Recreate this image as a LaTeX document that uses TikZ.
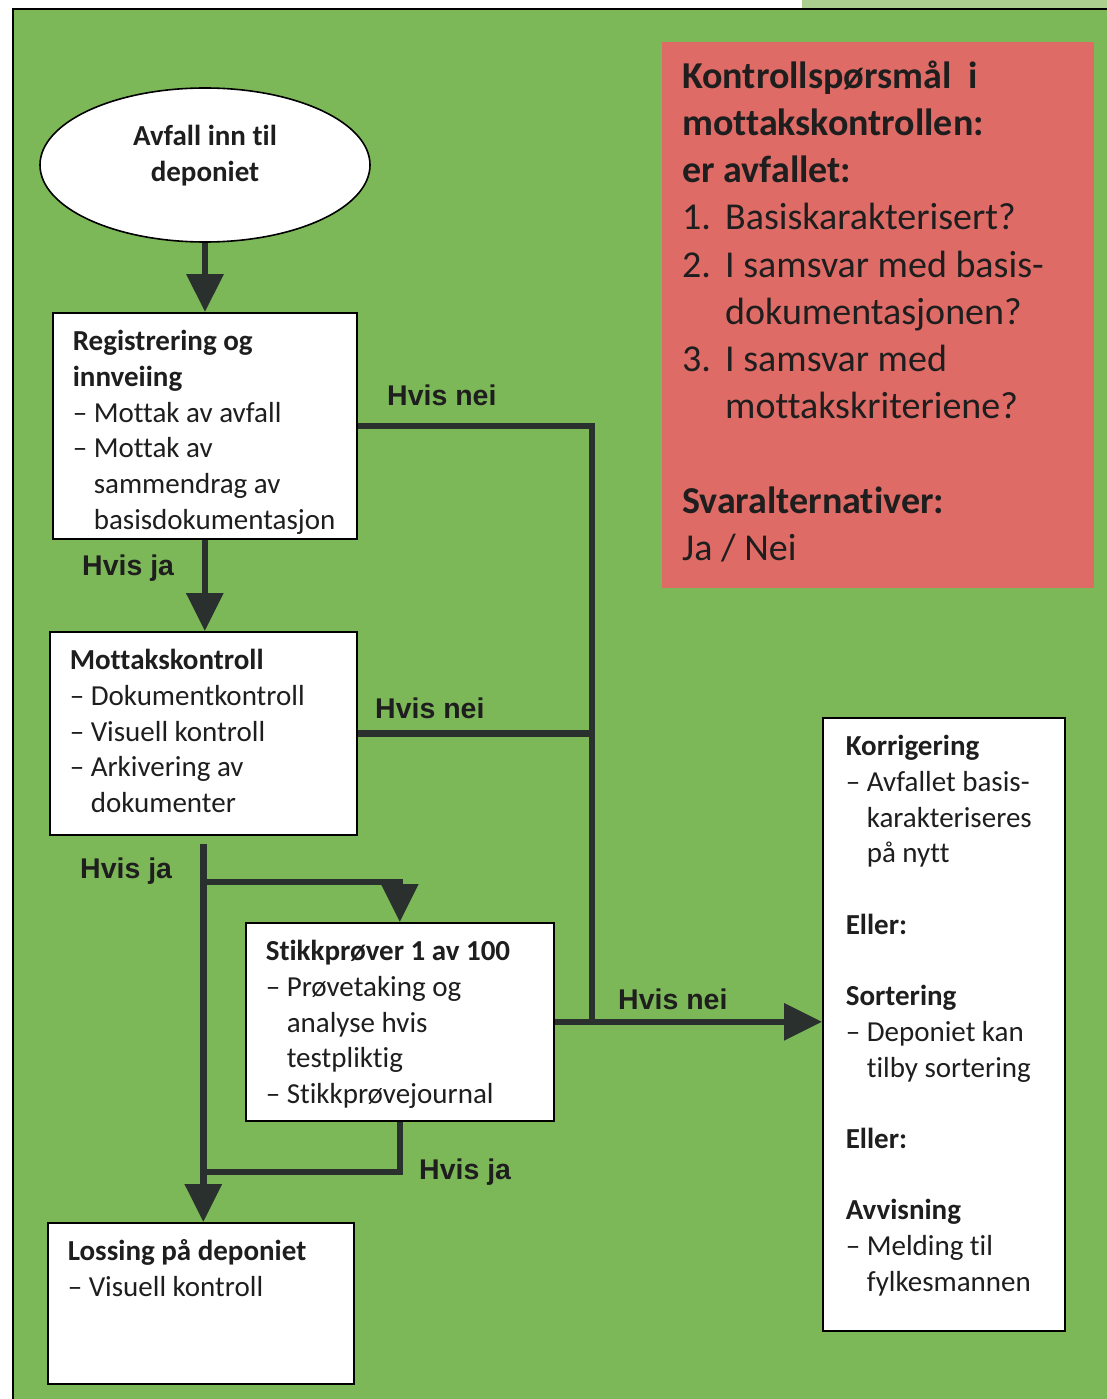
\documentclass[tikz,border=0pt]{standalone}
\usepackage{fontspec}
\setmainfont{Carlito}[Ligatures=NoCommon]
\newfontfamily\labelfont{Liberation Sans}
\usetikzlibrary{arrows.meta,shapes.geometric,positioning}

\definecolor{bggreen}{RGB}{125,184,88}
\definecolor{stripgreen}{RGB}{172,206,142}
\definecolor{questred}{RGB}{222,107,102}
\definecolor{linedark}{RGB}{42,48,45}
\definecolor{textdark}{RGB}{30,30,30}

\newcommand\litem{–\ }
\newcommand\lcont{\hphantom{–}\ }
\newcommand\boxbody[4][20pt]{\parbox[t][#3][t]{#2}{\fontsize{29}{35.7}\selectfont\raggedright\leftskip=#1\relax\parindent=0pt\vspace*{13pt}\strut#4}}

\tikzset{
  stepbox/.style={draw=black, line width=1.6pt, fill=white, anchor=north west, inner sep=0pt, text=textdark},
  startnode/.style={ellipse, draw=black, line width=1.6pt, fill=white, minimum width=330pt, minimum height=154pt, inner sep=0pt, text=textdark},
  questbox/.style={fill=questred, anchor=north west, inner sep=0pt, text=textdark},
  flow/.style={draw=linedark, line width=6.5pt},
  flowarrow/.style={flow, -{Triangle[length=38pt,width=36pt]}},
  hvis/.style={font=\labelfont\bfseries\fontsize{28.5}{34}\selectfont, text=textdark, inner sep=0pt, anchor=base west}
}

\begin{document}
\begin{tikzpicture}[x=1pt,y=-1pt]
\useasboundingbox (0,0) rectangle (1107,1399);
\fill[white] (0,0) rectangle (1107,1399);
\fill[stripgreen] (802,0) rectangle (1107,9);
\fill[bggreen] (13,9) rectangle (1107,1399);
\draw[line width=2.5pt] (13,1399) -- (13,9) -- (1107,9);

\node[startnode] (start) at (205,165) {\parbox[c][100pt][t]{220pt}{\centering\fontsize{29}{36}\selectfont\bfseries\vspace*{5pt}\strut Avfall inn til\\deponiet}};

\node[stepbox] (reg) at (52,312) {\boxbody{304pt}{226pt}{\textbf{Registrering og}\\
\textbf{innveiing}\\
\litem Mottak av avfall\\
\litem Mottak av\\
\lcont sammendrag av\\
\lcont basisdokumentasjon}};

\node[stepbox] (ctrl) at (49,631) {\boxbody{307pt}{203pt}{\textbf{Mottakskontroll}\\
\litem Dokumentkontroll\\
\litem Visuell kontroll\\
\litem Arkivering av\\
\lcont dokumenter}};

\node[stepbox] (stikk) at (245,922) {\boxbody{308pt}{198pt}{\textbf{Stikkprøver 1 av 100}\\
\litem Prøvetaking og\\
\lcont analyse hvis\\
\lcont testpliktig\\
\litem Stikkprøvejournal}};

\node[stepbox] (loss) at (47,1222) {\boxbody{306pt}{161pt}{\textbf{Lossing på deponiet}\\
\litem Visuell kontroll}};

\node[stepbox] (fix) at (822,717) {\boxbody[23pt]{242pt}{613pt}{\textbf{Korrigering}\\
\litem Avfallet basis-\\
\lcont karakteriseres\\
\lcont på nytt\\[35.7pt]
\textbf{Eller:}\\[35.7pt]
\textbf{Sortering}\\
\litem Deponiet kan\\
\lcont tilby sortering\\[35.7pt]
\textbf{Eller:}\\[35.7pt]
\textbf{Avvisning}\\
\litem Melding til\\
\lcont fylkesmannen}};

\node[questbox] (quest) at (662,42) {\parbox[t][546pt][t]{432pt}{\fontsize{38}{47.2}\selectfont\raggedright\leftskip=20pt\parindent=0pt\vspace*{13pt}\strut
\textbf{Kontrollspørsmål\ \ i}\\
\textbf{mottakskontrollen:}\\
\textbf{er avfallet:}\\
\makebox[43pt][l]{1.}Basiskarakterisert?\\
\makebox[43pt][l]{2.}I samsvar med basis-\\
\hspace*{43pt}dokumentasjonen?\\
\makebox[43pt][l]{3.}I samsvar med\\
\hspace*{43pt}mottakskriteriene?\\[47.2pt]
\textbf{Svaralternativer:}\\
Ja / Nei}};

\coordinate (nei) at (592,1020);
\coordinate (split) at (202.5,882);
\coordinate (merge) at (202.5,1172);

\draw[flowarrow] (start.south) -- (start.south |- reg.north);
\draw[flowarrow] (reg.south) -- (reg.south |- ctrl.north);
\draw[flow] (reg.east) -| (nei);
\draw[flow] (ctrl.east) -- (ctrl.east -| nei);
\draw[flowarrow] ([yshift=-8pt]ctrl.south) -- (ctrl.south |- loss.north);
\draw[flowarrow] (split) -| (stikk.north);
\draw[flow] (stikk.south) |- (merge);
\draw[flowarrow] (stikk.east) -- (stikk.east -| fix.west);

\node[hvis] (neireg) at (387,405) {Hvis nei};
\node[hvis] (jareg) at (82,575) {Hvis ja};
\node[hvis] (neictrl) at (375,718) {Hvis nei};
\node[hvis] (jactrl) at (80,878) {Hvis ja};
\node[hvis] (neistikk) at (618,1009) {Hvis nei};
\node[hvis] (jastikk) at (419,1179) {Hvis ja};
\end{tikzpicture}
\end{document}
